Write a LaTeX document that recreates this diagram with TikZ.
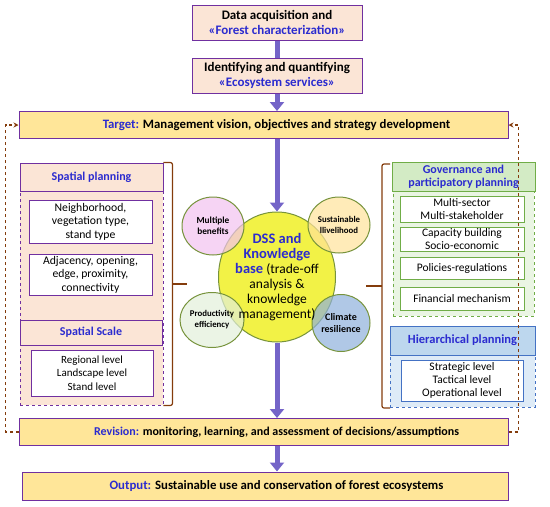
\documentclass[tikz,border=0pt]{standalone}
\usepackage{fontspec}
\setmainfont{Carlito}
\usetikzlibrary{arrows.meta,positioning,shapes.geometric,calc}

\definecolor{peach}{HTML}{FBE5D6}
\definecolor{boxline}{HTML}{7030A0}
\definecolor{bandfill}{HTML}{FFE699}
\definecolor{headblue}{HTML}{2B2BCF}
\definecolor{fbbrown}{HTML}{843C0C}
\definecolor{shaft}{HTML}{7464C8}
\definecolor{grline}{HTML}{70AD47}
\definecolor{grhead}{HTML}{D3EBC5}
\definecolor{grpanel}{HTML}{EAF5E3}
\definecolor{blline}{HTML}{4472C4}
\definecolor{blhead}{HTML}{BDD7EE}
\definecolor{blpanel}{HTML}{DEEBF7}
\definecolor{hubfill}{HTML}{F2F246}
\definecolor{hubline}{HTML}{77933C}
\definecolor{mbfill}{HTML}{F2C2F0}
\definecolor{slfill}{HTML}{FFE29A}
\definecolor{pefill}{HTML}{E2EFDA}
\definecolor{crfill}{HTML}{8FB0DC}

\begin{document}
\begin{tikzpicture}[
  x=1pt,y=-1pt,
  font=\fontsize{11}{13}\selectfont,
  stage/.style={rectangle,draw=boxline,line width=1pt,fill=peach,align=center,
                minimum width=170pt,minimum height=35pt,inner sep=1pt,
                font=\bfseries\fontsize{13}{15}\selectfont},
  band/.style={rectangle,draw=boxline,line width=1pt,fill=bandfill,
               minimum width=489pt,minimum height=27pt},
  bandtext/.style={font=\bfseries\fontsize{12.8}{14}\selectfont,xshift=13pt},
  head/.style={rectangle,line width=1pt,align=center,inner sep=1pt,
               font=\bfseries\fontsize{12}{14}\selectfont,text=headblue},
  item/.style={rectangle,line width=1pt,fill=white,align=center,inner sep=1pt,
               font=\fontsize{11.7}{13.5}\selectfont},
  region/.style={rectangle,dashed,line width=0.9pt},
  hub/.style={ellipse,draw=hubline,fill=hubfill,line width=1pt,
              minimum width=117pt,minimum height=130pt},
  sat/.style={ellipse,draw=hubline,line width=1pt,fill opacity=0.7,text opacity=1,
              align=center,inner sep=0pt,font=\bfseries\fontsize{9.3}{11}\selectfont},
  fat/.style={-{Triangle[length=9pt,width=14pt]},line width=5pt,draw=shaft},
  fb/.style={-{Stealth[length=5pt,width=5pt]},dashed,line width=1.1pt,draw=fbbrown},
  brace/.style={draw=fbbrown,line width=1.2pt,rounded corners=2pt},
]
\useasboundingbox (0,0) rectangle (550,507);

%% ------------------------------------------------------------ top stages
\node[stage] (data) at (277,22.5)
  {Data acquisition and\\ \textcolor{headblue}{«Forest characterization»}};
\node[stage] (ident) at (277,75.5)
  {Identifying and quantifying\\ \textcolor{headblue}{«Ecosystem services»}};
\node[band,label={[bandtext]center:{\textcolor{headblue}{Target:} Management vision, objectives and strategy development}}]
  (target) at (263.5,125) {};

%% --------------------------------------------------------- spatial panel
\node[region,draw=boxline,fill=peach,minimum width=143pt,minimum height=242pt] (spbg) at (91.5,284) {};
\node[head,draw=boxline,fill=peach,minimum width=143pt,minimum height=28pt] (sphead) at (91.5,177) {Spatial planning};
\node[item,draw=boxline,minimum width=123pt,minimum height=43pt] (nbr) at (90.5,221.5)
  {Neighborhood,\\ vegetation type,\\ stand type};
\node[item,draw=boxline,minimum width=123pt,minimum height=41pt] (adj) at (90.5,274.5)
  {Adjacency, opening,\\ edge, proximity,\\ connectivity};
\node[head,draw=boxline,fill=peach,minimum width=142pt,minimum height=25pt] (sshead) at (91,332.5) {Spatial Scale};
\node[item,draw=boxline,minimum width=122pt,minimum height=46pt,font=\fontsize{11}{13.5}\selectfont] (scale) at (92,373)
  {Regional level\\ Landscape level\\ Stand level};
\draw[brace] (spbg.north east) -- ++(9,0) coordinate (lb1) -- ($(spbg.south east)+(9,0)$) -- (spbg.south east);
\draw[brace] ($(lb1)!0.5!($(spbg.south east)+(9,0)$)$) -- ++(15,0);

%% ------------------------------------------------------ governance panel
\node[region,draw=grline,fill=grpanel,minimum width=141pt,minimum height=154pt] (gvbg) at (463.5,239) {};
\node[head,draw=grline,fill=grhead,minimum width=143pt,minimum height=29pt,
      font=\bfseries\fontsize{12}{13}\selectfont] (gvhead) at (463.5,176.5)
  {Governance and\\ participatory planning};
\node[item,draw=grline,minimum width=124pt,minimum height=26pt,font=\fontsize{11.5}{12.5}\selectfont] (gv1) at (462,209)
  {Multi-sector\\ Multi-stakeholder};
\node[item,draw=grline,minimum width=124pt,minimum height=24pt,font=\fontsize{11.5}{12.5}\selectfont] (gv2) at (462,239)
  {Capacity building\\ Socio-economic};
\node[item,draw=grline,minimum width=124pt,minimum height=22pt,font=\fontsize{11.5}{12.5}\selectfont] (gv3) at (462,268)
  {Policies-regulations};
\node[item,draw=grline,minimum width=124pt,minimum height=23pt,font=\fontsize{11.5}{12.5}\selectfont] (gv4) at (462,298.5)
  {Financial mechanism};

%% ---------------------------------------------------- hierarchical panel
\node[region,draw=blline,fill=blpanel,minimum width=145pt,minimum height=81pt] (hibg) at (462.5,366.5) {};
\node[head,draw=blline,fill=blhead,minimum width=145pt,minimum height=29pt,
      font=\bfseries\fontsize{12.5}{14}\selectfont] (hihead) at (462.5,340.5) {Hierarchical planning};
\node[item,draw=blline,minimum width=122pt,minimum height=41pt,font=\fontsize{11.5}{12.8}\selectfont] (levels) at (462,380.5)
  {Strategic level\\ Tactical level\\ Operational level};
\draw[brace] (390,164) -- (382,164) coordinate (rb1) -- (382,408) coordinate (rb2) -- (390,408);
\draw[brace] ($(rb1)!0.5!(rb2)$) -- ++(-16,0);

%% --------------------------------------------------------------- DSS hub
\node[hub] (dss) at (277,277) {};
\node[sat,fill=mbfill,minimum width=62pt,minimum height=58pt] (mb) at (213,226) {Multiple\\ benefits};
\node[sat,fill=slfill,minimum width=62pt,minimum height=56pt,font=\bfseries\fontsize{8.8}{11}\selectfont] (sl) at (339,225) {Sustainable\\ llivelihood};
\node[sat,fill=pefill,minimum width=64pt,minimum height=55pt,font=\bfseries\fontsize{8.8}{11}\selectfont] (pe) at (212,320) {Productivity\\ efficiency};
\node[sat,fill=crfill,minimum width=58pt,minimum height=57pt,font=\bfseries\fontsize{10}{12}\selectfont] (cr) at (341,323) {Climate\\ resilience};
\node[align=center,font=\fontsize{13.5}{15}\selectfont] (dsstext) at (dss)
  {\textcolor{headblue}{\bfseries\fontsize{14.5}{15}\selectfont DSS and}\\
   \textcolor{headblue}{\bfseries\fontsize{14.5}{15}\selectfont Knowledge}\\
   \textcolor{headblue}{\bfseries\fontsize{14.5}{15}\selectfont base} (trade-off\\ analysis \&\\ knowledge\\ management)};

%% --------------------------------------------------------- bottom bands
\node[band,label={[bandtext,font=\bfseries\fontsize{12}{14}\selectfont]center:{\textcolor{headblue}{Revision:} monitoring, learning, and assessment of decisions/assumptions}}]
  (rev) at (263.5,432) {};
\node[band,minimum width=486pt,minimum height=28pt,
      label={[bandtext,xshift=-1.5pt]center:{\textcolor{headblue}{Output:} Sustainable use and conservation of forest ecosystems}}]
  (out) at (265,486) {};

%% ---------------------------------------------------------------- arrows
\draw[line width=5pt,draw=shaft] (data.south) -- (ident.north);
\draw[fat] (ident.south) -- (ident.south |- target.north);
\draw[fat] (dss.north |- target.south) -- (dss.north);
\draw[fat] (dss.south) -- (dss.south |- rev.north);
\draw[fat] (dss.south |- rev.south) -- (dss.south |- out.north);
\draw[fb] (rev.west) -- ++(-13,0) |- (target.west);
\draw[fb] (rev.east) -- ++(10,0) |- (target.east);

\end{tikzpicture}
\end{document}
